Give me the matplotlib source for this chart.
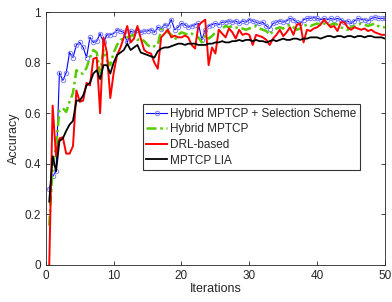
import numpy as np
import matplotlib
matplotlib.use("Agg")
import matplotlib.pyplot as plt

plt.rcParams['font.family'] = ['Liberation Sans', 'DejaVu Sans']

iterations = np.arange(1, 101) * 0.5

hybrid_sel = [0.30, 0.35, 0.37, 0.76, 0.73, 0.76, 0.84, 0.82, 0.87, 0.88,
              0.86, 0.82, 0.90, 0.88, 0.885, 0.915, 0.88, 0.91, 0.91, 0.915,
              0.93, 0.925, 0.92, 0.88, 0.925, 0.92, 0.93, 0.92, 0.925, 0.925,
              0.93, 0.92, 0.94, 0.935, 0.95, 0.945, 0.97, 0.93, 0.94, 0.955,
              0.95, 0.94, 0.945, 0.95, 0.955, 0.89, 0.93, 0.945, 0.95, 0.955,
              0.95, 0.96, 0.96, 0.965, 0.96, 0.965, 0.955, 0.965, 0.96, 0.97,
              0.965, 0.96, 0.955, 0.96, 0.945, 0.935, 0.955, 0.96, 0.965, 0.96,
              0.965, 0.975, 0.97, 0.96, 0.955, 0.97, 0.975, 0.975, 0.978, 0.975,
              0.97, 0.975, 0.97, 0.975, 0.97, 0.975, 0.97, 0.96, 0.965, 0.955,
              0.965, 0.975, 0.97, 0.97, 0.965, 0.975, 0.98, 0.975, 0.975, 0.975]

hybrid = [0.155, 0.39, 0.47, 0.61, 0.62, 0.605, 0.645, 0.68, 0.77, 0.757,
          0.757, 0.78, 0.82, 0.85, 0.84, 0.76, 0.85, 0.81, 0.79, 0.84,
          0.87, 0.89, 0.895, 0.90, 0.905, 0.91, 0.89, 0.895, 0.885, 0.87,
          0.86, 0.865, 0.87, 0.93, 0.935, 0.92, 0.91, 0.89, 0.91, 0.92,
          0.915, 0.91, 0.915, 0.905, 0.90, 0.88, 0.91, 0.895, 0.905, 0.92,
          0.925, 0.935, 0.945, 0.94, 0.945, 0.94, 0.935, 0.935, 0.93, 0.935,
          0.94, 0.945, 0.935, 0.93, 0.925, 0.91, 0.925, 0.935, 0.94, 0.935,
          0.945, 0.95, 0.94, 0.93, 0.935, 0.945, 0.95, 0.945, 0.95, 0.955,
          0.95, 0.955, 0.945, 0.95, 0.955, 0.95, 0.94, 0.935, 0.93, 0.94,
          0.945, 0.95, 0.955, 0.95, 0.945, 0.95, 0.955, 0.945, 0.94, 0.94]

drl = [0.0, 0.63, 0.43, 0.50, 0.505, 0.44, 0.44, 0.47, 0.69, 0.645,
       0.65, 0.72, 0.71, 0.815, 0.82, 0.60, 0.90, 0.84, 0.66, 0.76,
       0.83, 0.86, 0.90, 0.945, 0.88, 0.895, 0.945, 0.895, 0.85, 0.84,
       0.836, 0.80, 0.776, 0.90, 0.915, 0.93, 0.90, 0.907, 0.90, 0.90,
       0.907, 0.90, 0.87, 0.856, 0.948, 0.96, 0.97, 0.79, 0.86, 0.836,
       0.93, 0.915, 0.90, 0.935, 0.92, 0.895, 0.93, 0.91, 0.915, 0.91,
       0.87, 0.91, 0.905, 0.90, 0.89, 0.87, 0.895, 0.91, 0.93, 0.905,
       0.92, 0.94, 0.91, 0.95, 0.955, 0.88, 0.93, 0.925, 0.935, 0.94,
       0.95, 0.97, 0.955, 0.94, 0.945, 0.925, 0.96, 0.96, 0.94, 0.93,
       0.94, 0.935, 0.93, 0.935, 0.925, 0.93, 0.92, 0.915, 0.91, 0.91]

lia = [0.25, 0.43, 0.37, 0.49, 0.50, 0.53, 0.555, 0.57, 0.65, 0.65,
       0.67, 0.71, 0.72, 0.757, 0.77, 0.735, 0.79, 0.79, 0.757, 0.80,
       0.83, 0.84, 0.85, 0.875, 0.85, 0.86, 0.87, 0.84, 0.835, 0.83,
       0.825, 0.82, 0.845, 0.855, 0.86, 0.86, 0.865, 0.87, 0.875, 0.875,
       0.87, 0.875, 0.875, 0.875, 0.87, 0.87, 0.87, 0.875, 0.875, 0.88,
       0.88, 0.885, 0.88, 0.88, 0.885, 0.885, 0.89, 0.885, 0.89, 0.89,
       0.885, 0.89, 0.885, 0.885, 0.88, 0.885, 0.89, 0.885, 0.89, 0.895,
       0.89, 0.89, 0.895, 0.895, 0.89, 0.895, 0.895, 0.90, 0.90, 0.90,
       0.895, 0.90, 0.905, 0.905, 0.90, 0.905, 0.905, 0.90, 0.905, 0.905,
       0.90, 0.905, 0.905, 0.90, 0.905, 0.905, 0.90, 0.90, 0.90, 0.895]

labels = ["Hybrid MPTCP + Selection Scheme", "Hybrid MPTCP", "DRL-based", "MPTCP LIA"]
x_ticks = [0, 10, 20, 30, 40, 50]
y_ticks = [0, 0.2, 0.4, 0.6, 0.8, 1]

text_col = "#262626"
fig = plt.figure(figsize=(3.92, 3.02), dpi=100)
ax = fig.add_axes([0.117, 0.123, 0.865, 0.837])

ax.plot(iterations, hybrid_sel, color="#0000ff", lw=0.8, marker="o", ms=3.2,
        mfc="none", mec="#7f7fff", mew=0.7, label=labels[0])
ax.plot(iterations, hybrid, color="#55cc00", lw=1.8, ls=(0, (4, 1.5, 1, 1.5)), label=labels[1])
ax.plot(iterations, drl, color="#ff0000", lw=1.4, label=labels[2])
ax.plot(iterations, lia, color="#000000", lw=1.3, label=labels[3])

ax.set_xlim(0, 50)
ax.set_ylim(0, 1)
ax.set_xticks(x_ticks)
ax.set_yticks(y_ticks)
ax.set_yticklabels([f"{v:g}" for v in y_ticks])
ax.tick_params(direction="in", top=True, right=True, labelsize=8.5, length=3, width=0.6,
               colors=text_col)
for s in ax.spines.values():
    s.set_linewidth(0.6)
    s.set_color(text_col)
ax.set_xlabel("Iterations", fontsize=9, labelpad=1, color=text_col)
ax.set_ylabel("Accuracy", fontsize=9, labelpad=3, color=text_col)

leg = ax.legend(loc="upper left", bbox_to_anchor=(0.285, 0.635), borderaxespad=0,
                fontsize=8.5, fancybox=False, framealpha=1, edgecolor="#333333",
                handlelength=1.8, handletextpad=0.25, borderpad=0.3, labelspacing=0.3)
leg.get_frame().set_linewidth(0.8)
for t in leg.get_texts():
    t.set_color(text_col)

fig.savefig("out.png", dpi=100)
